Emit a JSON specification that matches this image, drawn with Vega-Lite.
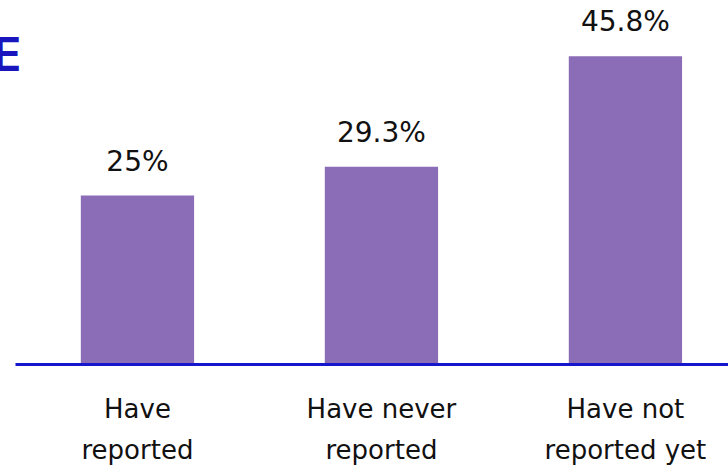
{
  "$schema": "https://vega.github.io/schema/vega-lite/v6.json",
  "width": 713,
  "height": 335,
  "autosize": {"type": "none"},
  "padding": {"left": 15, "top": 28, "right": 0, "bottom": 104},
  "background": "white",
  "title": {"text": "E", "anchor": "start", "fontSize": 47, "fontWeight": 600, "font": "Inter", "color": "#1a16bd", "dx": -22, "dy": 109, "offset": 0, "baseline": "alphabetic"},
  "data": {"values": [
    {"category": "Have|reported", "share": 25, "label": "25%"},
    {"category": "Have never|reported", "share": 29.3, "label": "29.3%"},
    {"category": "Have not|reported yet", "share": 45.8, "label": "45.8%"}
  ]},
  "encoding": {
    "x": {
      "field": "category", "type": "nominal", "sort": null,
      "scale": {"paddingInner": 0.5357, "paddingOuter": 0.229, "align": 0.589},
      "axis": {"title": null, "labelExpr": "split(datum.value, '|')", "labelAngle": 0, "labelFont": "DejaVu Sans", "labelFontSize": 26, "labelColor": "#111111", "labelLineHeight": 41, "labelPadding": 32, "ticks": false, "domainColor": "#1616cc", "domainWidth": 3, "offset": 1, "labelBaseline": "top"}
    },
    "y": {"field": "share", "type": "quantitative", "scale": {"domain": [0, 50]}, "axis": null}
  },
  "layer": [
    {"mark": {"type": "bar", "color": "#8a6db6"}},
    {"mark": {"type": "text", "font": "DejaVu Sans", "fontSize": 28, "color": "#111111", "baseline": "alphabetic", "dy": -25}, "encoding": {"text": {"field": "label"}}}
  ],
  "config": {"view": {"stroke": null}}
}
